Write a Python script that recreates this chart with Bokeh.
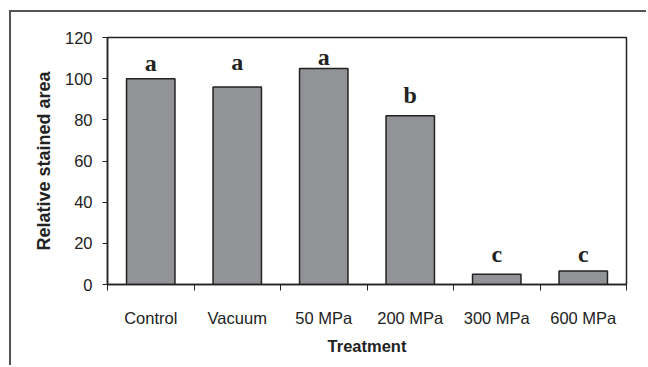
from bokeh.plotting import figure
from bokeh.models import Range1d, FixedTicker, ColumnDataSource
from bokeh.core.properties import value
from bokeh.embed import file_html
from bokeh.resources import INLINE

categories = ["Control", "Vacuum", "50 MPa", "200 MPa", "300 MPa", "600 MPa"]
values = [100, 96, 105, 82, 5, 6.6]
letters = ["a", "a", "a", "b", "c", "c"]
label_y = [103.6, 104.3, 106.4, 88.3, 10.8, 10.8]
y_ticks = [0, 20, 40, 60, 80, 100, 120]

x = [i + 0.5 for i in range(len(categories))]
src = ColumnDataSource(dict(x=x, top=values, letter=letters, ly=label_y))

p = figure(width=637, height=355, output_backend="svg", toolbar_location=None,
           x_range=Range1d(0, len(categories)), y_range=Range1d(0, 120),
           min_border_left=96, min_border_top=25, min_border_right=22,
           min_border_bottom=83)
p.styles = {"margin-left": "9px", "margin-top": "10px",
            "border-left": "2px solid #555555", "border-top": "2px solid #555555"}

p.vbar(x="x", top="top", width=0.56, source=src, fill_color="#929397",
       line_color="#222222", line_width=1.5)
p.text(x="x", y="ly", text="letter", source=src, text_align="center",
       text_baseline="alphabetic", y_offset=-8, text_font=value("Liberation Serif"),
       text_font_style="bold", text_font_size="24px", text_color="#222222")

p.grid.visible = False
p.outline_line_color = "#222222"
p.outline_line_width = 1.5

xa = p.xaxis[0]
xa.ticker = FixedTicker(ticks=x, minor_ticks=list(range(len(categories) + 1)))
xa.major_label_overrides = {v: c for v, c in zip(x, categories)}
xa.major_tick_out = 0
xa.major_tick_in = 0
xa.minor_tick_out = 6
xa.minor_tick_in = 0
xa.minor_tick_line_color = "#222222"
xa.major_label_standoff = 18
xa.axis_label = "Treatment"
xa.axis_label_standoff = 7

ya = p.yaxis[0]
ya.ticker = FixedTicker(ticks=y_ticks)
ya.minor_tick_line_color = None
ya.major_tick_out = 5
ya.major_tick_in = 0
ya.major_label_standoff = 10
ya.axis_label = "Relative stained area"
ya.axis_label_standoff = 8

for ax in (xa, ya):
    ax.axis_line_color = "#222222"
    ax.axis_line_width = 1.5
    ax.major_tick_line_color = "#222222"
    ax.major_label_text_font = "Liberation Sans"
    ax.major_label_text_font_size = "16.5px"
    ax.major_label_text_color = "#222222"
    ax.axis_label_text_font = "Liberation Sans"
    ax.axis_label_text_font_size = "16.5px"
    ax.axis_label_text_font_style = "bold"
    ax.axis_label_text_color = "#222222"

ya.axis_label_text_font_size = "18px"

open("out.html", "w").write(file_html(p, INLINE))
